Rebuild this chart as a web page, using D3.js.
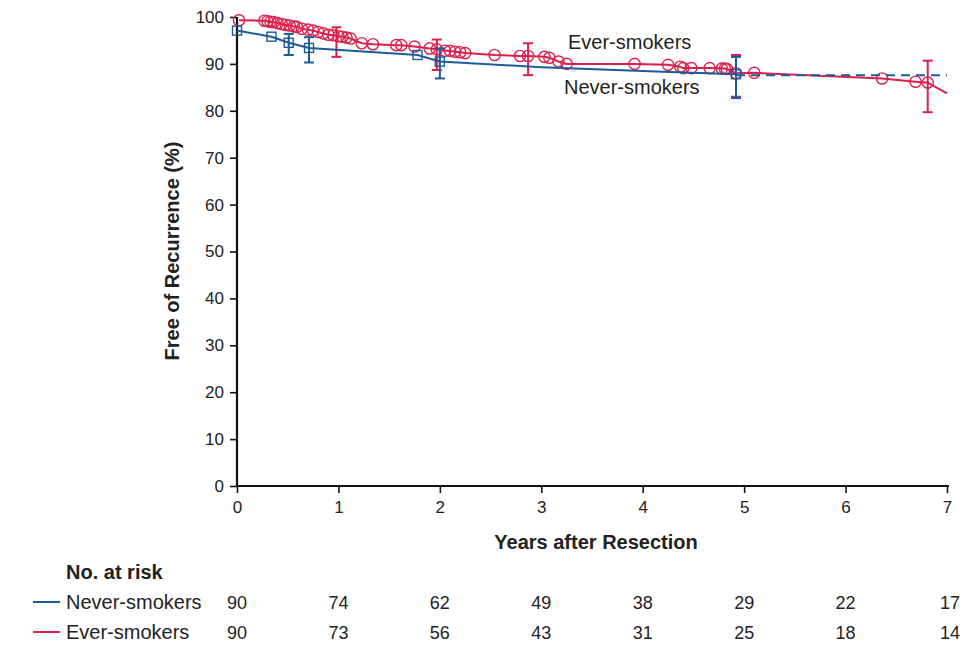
<!DOCTYPE html>
<html><head><meta charset="utf-8">
<script src="https://cdn.jsdelivr.net/npm/d3@7"></script>
<style>body{margin:0;background:#fff}svg{display:block}text{font-family:"Liberation Sans",Arial,Helvetica,sans-serif;fill:#222}</style>
</head><body>
<script>
// ---- data ----
const xTicks = [0,1,2,3,4,5,6,7];
const yTicks = [0,10,20,30,40,50,60,70,80,90,100];

// Never-smokers (blue) curve vertices
const neverT = [0, 0.34, 0.51, 0.71, 1.78, 2.0, 3.0, 4.2, 4.92];
const neverS = [97.1, 95.8, 94.5, 93.4, 91.9, 90.5, 89.3, 88.3, 87.8];
const neverMarked = [1,1,1,1,1,1,0,0,1];
const neverTailT = [4.92, 7.0];
const neverTailS = [87.6, 87.6];
const neverBarT = [0.51, 0.71, 2.0, 4.92];
const neverBarLo = [91.9, 90.3, 86.9, 82.7];
const neverBarHi = [96.4, 95.7, 93.3, 91.5];

// Ever-smokers (red) curve vertices (all censor circles)
const everT = [0.02,0.27,0.30,0.33,0.36,0.40,0.44,0.48,0.52,0.56,0.59,0.64,0.70,0.75,0.80,0.85,0.90,0.95,1.0,1.04,1.08,1.12,1.23,1.34,1.57,1.62,1.75,1.90,1.97,2.05,2.10,2.15,2.20,2.25,2.54,2.79,2.87,3.03,3.08,3.17,3.25,3.92,4.25,4.37,4.40,4.48,4.66,4.78,4.81,4.83,4.92,5.10,6.36,6.69,6.81];
const everS = [99.3,99.2,99.1,99.0,98.9,98.7,98.5,98.3,98.2,98.0,97.9,97.5,97.3,97.1,96.8,96.5,96.2,96.1,95.9,95.8,95.6,95.4,94.4,94.2,94.0,94.0,93.7,93.3,93.1,92.8,92.8,92.6,92.5,92.3,91.9,91.7,91.7,91.5,91.3,90.5,90.0,90.0,89.8,89.4,89.1,89.1,89.1,89.0,89.0,88.9,88.0,88.1,86.9,86.2,86.0];
const everEndT = [7.0];
const everEndS = [83.7];
const everBarT = [0.98, 1.97, 2.87, 4.92, 6.81];
const everBarLo = [91.5, 88.7, 87.6, 83.0, 79.7];
const everBarHi = [97.8, 95.2, 94.4, 91.9, 90.7];

const riskGroups = ["Never-smokers", "Ever-smokers"];
const riskNever = [90,74,62,49,38,29,22,17];
const riskEver = [90,73,56,43,31,25,18,14];

// ---- drawing ----
const W = 965, H = 646;
const blue = "#1d5b99", red = "#dc1f4c";
const svg = d3.select("body").append("svg").attr("width", W).attr("height", H);
const x = d3.scaleLinear().domain([0,7]).range([237, 947]);
const y = d3.scaleLinear().domain([0,100]).range([486, 17]);

const yAx = svg.append("g").attr("transform", `translate(${x(0)},0)`)
  .call(d3.axisLeft(y).tickValues(yTicks).tickFormat(d3.format("d")).tickSize(7).tickPadding(6));
const xAx = svg.append("g").attr("transform", `translate(0,${y(0)})`)
  .call(d3.axisBottom(x).tickValues(xTicks).tickFormat(d3.format("d")).tickSize(7).tickPadding(8));
[yAx, xAx].forEach(g => {
  g.select(".domain").attr("stroke", "#111").attr("stroke-width", 2.2);
  g.selectAll(".tick line").attr("stroke", "#111").attr("stroke-width", 1.6);
  g.selectAll(".tick text").attr("font-size", 17).attr("fill", "#222")
    .attr("font-family", '"Liberation Sans",Arial,sans-serif');
});
xAx.select(".domain").attr("d", `M${x(0)},0H${x(7)+2}`);
yAx.select(".domain").attr("d", `M0,${y(0)}V${y(100)}`);

// titles
svg.append("text").attr("x", 596).attr("y", 549).attr("text-anchor", "middle")
  .attr("font-size", 20).attr("font-weight", "bold").text("Years after Resection");
svg.append("text").attr("transform", `translate(179,251) rotate(-90)`).attr("text-anchor", "middle")
  .attr("font-size", 20).attr("font-weight", "bold").text("Free of Recurrence (%)");

const line = d3.line().x(d => x(d[0])).y(d => y(d[1]));

function bars(T, lo, hi, color) {
  const g = svg.append("g").attr("stroke", color).attr("stroke-width", 2);
  T.forEach((t, i) => {
    const cx = x(t);
    g.append("line").attr("x1", cx).attr("x2", cx).attr("y1", y(lo[i])).attr("y2", y(hi[i]));
    g.append("line").attr("x1", cx-5).attr("x2", cx+5).attr("y1", y(lo[i])).attr("y2", y(lo[i]));
    g.append("line").attr("x1", cx-5).attr("x2", cx+5).attr("y1", y(hi[i])).attr("y2", y(hi[i]));
  });
}

// Ever-smokers (red)
const everPts = everT.map((t,i) => [t, everS[i]]).concat(everEndT.map((t,i)=>[t, everEndS[i]]));
svg.append("path").datum(everPts).attr("d", line).attr("fill", "none").attr("stroke", red).attr("stroke-width", 2);
bars(everBarT, everBarLo, everBarHi, red);
svg.append("g").selectAll("circle").data(everT.map((t,i)=>[t, everS[i]])).join("circle")
  .attr("cx", d => x(d[0])).attr("cy", d => y(d[1])).attr("r", 5.6)
  .attr("fill", "none").attr("stroke", red).attr("stroke-width", 1.4);

// Never-smokers (blue)
const neverPts = neverT.map((t,i) => [t, neverS[i]]);
svg.append("path").datum(neverPts).attr("d", line).attr("fill", "none").attr("stroke", blue).attr("stroke-width", 2);
svg.append("path").datum(neverTailT.map((t,i)=>[t, neverTailS[i]])).attr("d", line)
  .attr("fill", "none").attr("stroke", blue).attr("stroke-width", 2).attr("stroke-dasharray", "9,6");
bars(neverBarT, neverBarLo, neverBarHi, blue);
svg.append("g").selectAll("rect").data(neverPts.filter((d,i)=>neverMarked[i])).join("rect")
  .attr("x", d => x(d[0])-4.5).attr("y", d => y(d[1])-4.5).attr("width", 9).attr("height", 9)
  .attr("fill", "none").attr("stroke", blue).attr("stroke-width", 1.4);

// curve labels
svg.append("text").attr("x", 568).attr("y", 49).attr("font-size", 20).text("Ever-smokers");
svg.append("text").attr("x", 564).attr("y", 94).attr("font-size", 20).text("Never-smokers");

// risk table
svg.append("text").attr("x", 66).attr("y", 579).attr("font-size", 20).attr("font-weight", "bold").text("No. at risk");
const rows = [riskNever, riskEver];
const rowColors = [blue, red];
const rowY = [609, 639];
rows.forEach((vals, r) => {
  svg.append("line").attr("x1", 33).attr("x2", 60).attr("y1", rowY[r]-7).attr("y2", rowY[r]-7)
    .attr("stroke", rowColors[r]).attr("stroke-width", 2);
  svg.append("text").attr("x", 66).attr("y", rowY[r]).attr("font-size", 20).text(riskGroups[r]);
  svg.append("g").selectAll("text").data(vals).join("text")
    .attr("x", (d,i) => x(xTicks[i]) + (i===7?3:0)).attr("y", rowY[r]).attr("text-anchor", "middle")
    .attr("font-size", 18).text(d => d);
});
</script>
</body></html>
